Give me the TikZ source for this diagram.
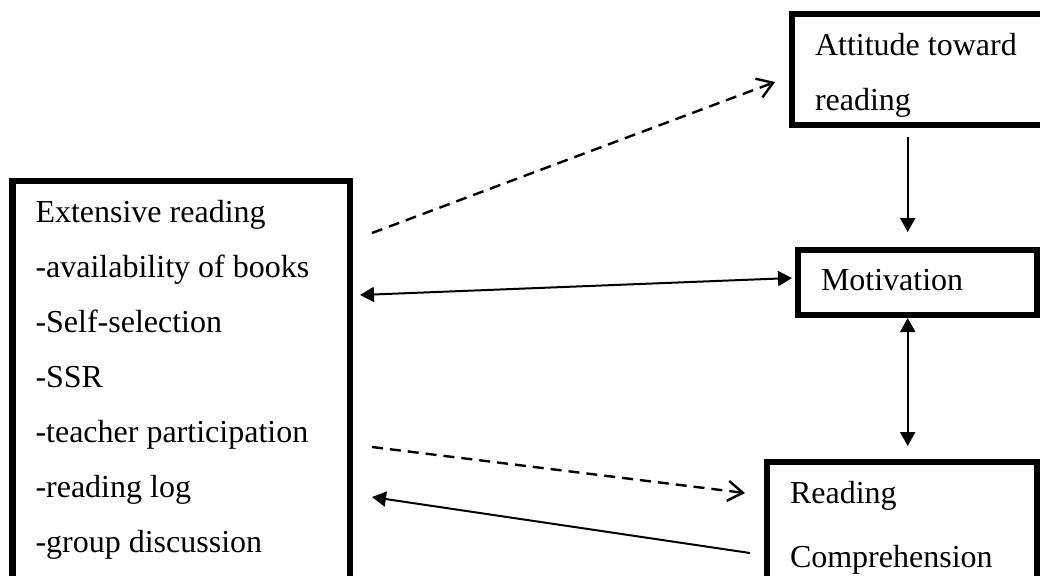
\documentclass[tikz,border=0pt]{standalone}
\usepackage{fontspec}
\setmainfont{Liberation Serif}
\usetikzlibrary{arrows.meta}

\begin{document}
\begin{tikzpicture}[x=0.5pt,y=-0.5pt,
                    factor box/.style={draw,line width=3.3pt,outer sep=0pt,anchor=north west,
                      align=flush left,inner xsep=11.5pt,inner ysep=10pt,text height=10.5pt,
                      font=\fontsize{16}{27.5}\selectfont},
                    link/.style={line width=1pt,-{Triangle[length=7pt,width=7.5pt]}},
                    both link/.style={line width=1pt,
                      {Triangle[length=7pt,width=7.5pt]}-{Triangle[length=7pt,width=7.5pt]}},
                    weak link/.style={line width=1.2pt,dash pattern=on 5.5pt off 3.5pt,
                      -{Straight Barb[length=7.5pt,width=10pt]}}]

  \clip (0,0) rectangle (1040,575);

  \node[factor box,text width=145.75pt,text depth=190pt] (ext) at (12.5,181)
    {Extensive reading\\-availability of books\\-Self-selection\\-SSR\\-teacher participation\\-reading log\\-group discussion};
  \node[factor box,text width=121pt,text depth=25pt] (att) at (792,14) {Attitude toward\\reading};
  \node[factor box,text width=96.5pt,text height=10pt,text depth=2.5pt] (mot) at (798,250) {Motivation};
  \node[factor box,text width=112pt,text depth=60pt,font=\fontsize{16}{32}\selectfont] (read) at (767,462)
    {Reading\\Comprehension};

  % free ends of the connectors
  \coordinate (ext top) at (372,233);
  \coordinate (att in) at (775,82);
  \coordinate (ext mid) at (360,295);
  \coordinate (mot in) at (792,278);
  \coordinate (att out) at (907.7,137);
  \coordinate (mot top) at (907.7,232);
  \coordinate (mot bot) at (907.7,318);
  \coordinate (read top) at (907.7,446);
  \coordinate (ext low) at (372,447);
  \coordinate (read in) at (745,493);
  \coordinate (read out) at (750,553);
  \coordinate (ext log) at (372,497);

  \path
    (ext top) edge [weak link] (att in)
    (ext mid) edge [both link] (mot in)
    (att out) edge [link] (mot top)
    (mot bot) edge [both link] (read top)
    (ext low) edge [weak link] (read in)
    (read out) edge [link] (ext log);

\end{tikzpicture}
\end{document}
